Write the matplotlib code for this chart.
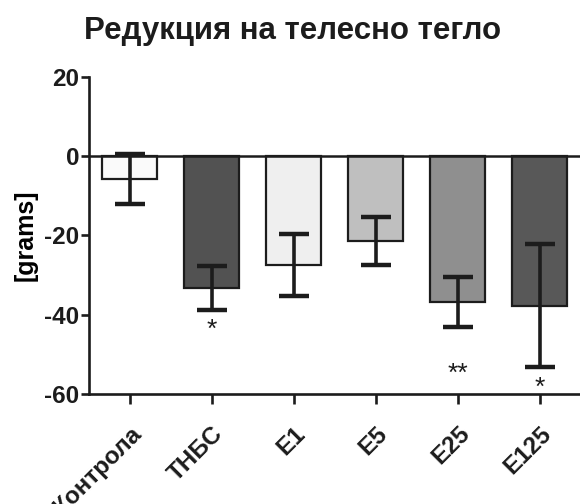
import matplotlib
matplotlib.use("Agg")
import matplotlib.pyplot as plt
import numpy as np

categories = ["Контрола", "ТНБС", "E1", "E5", "E25", "E125"]
means = [-5.7, -33.3, -27.4, -21.4, -36.9, -37.7]
errors = [6.3, 5.5, 7.8, 6.0, 6.3, 15.5]
bar_colors = ["#fafafa", "#525252", "#efefef", "#bfbfbf", "#8f8f8f", "#585858"]
sig_labels = ["", "*", "", "", "**", "*"]
sig_y = [None, -43.9, None, None, -54.8, -58.4]
yticks = [-60, -40, -20, 0, 20]

plt.rcParams['font.family'] = ['Liberation Sans', 'DejaVu Sans']

fig = plt.figure(figsize=(5.8, 5.04), dpi=100)
ax = fig.add_axes([0.154, 0.218, 0.846, 0.630])

x = np.arange(len(categories))
dark = "#1c1c1c"
ax.bar(x, means, width=0.67, color=bar_colors, edgecolor=dark, linewidth=1.6, zorder=2)
ax.errorbar(x, means, yerr=errors, fmt='none', ecolor=dark, elinewidth=2.6,
            capsize=10.5, capthick=3.2, zorder=3)
ax.axhline(0, color=dark, linewidth=1.8, zorder=4)

for xi, lab, yy in zip(x, sig_labels, sig_y):
    if lab:
        ax.text(xi, yy, lab, ha='center', va='center', fontsize=19, color=dark)

ax.set_xlim(-0.49, 5.49)
ax.set_ylim(-60, 20)
ax.set_yticks(yticks)
ax.set_yticklabels([str(v) for v in yticks], fontsize=17.5, fontweight='bold')
ax.set_xticks(x)
ax.set_xticklabels(categories, rotation=45, ha='right', rotation_mode='anchor',
                   fontsize=17.5, fontweight='bold')
ax.set_ylabel("[grams]", fontsize=18, fontweight='bold', labelpad=5)

for s in ['top', 'right']:
    ax.spines[s].set_visible(False)
for s in ['left', 'bottom']:
    ax.spines[s].set_linewidth(1.9)
    ax.spines[s].set_color(dark)
ax.tick_params(axis='both', direction='out', width=1.9, color=dark, labelcolor=dark)
ax.tick_params(axis='x', length=7, pad=13)
ax.tick_params(axis='y', length=6, pad=1)

fig.text(0.505, 1 - 39 / 504, "Редукция на телесно тегло", ha='center', va='baseline',
         fontsize=22.5, fontweight='bold', color=dark)

fig.savefig("out.png", dpi=100)
